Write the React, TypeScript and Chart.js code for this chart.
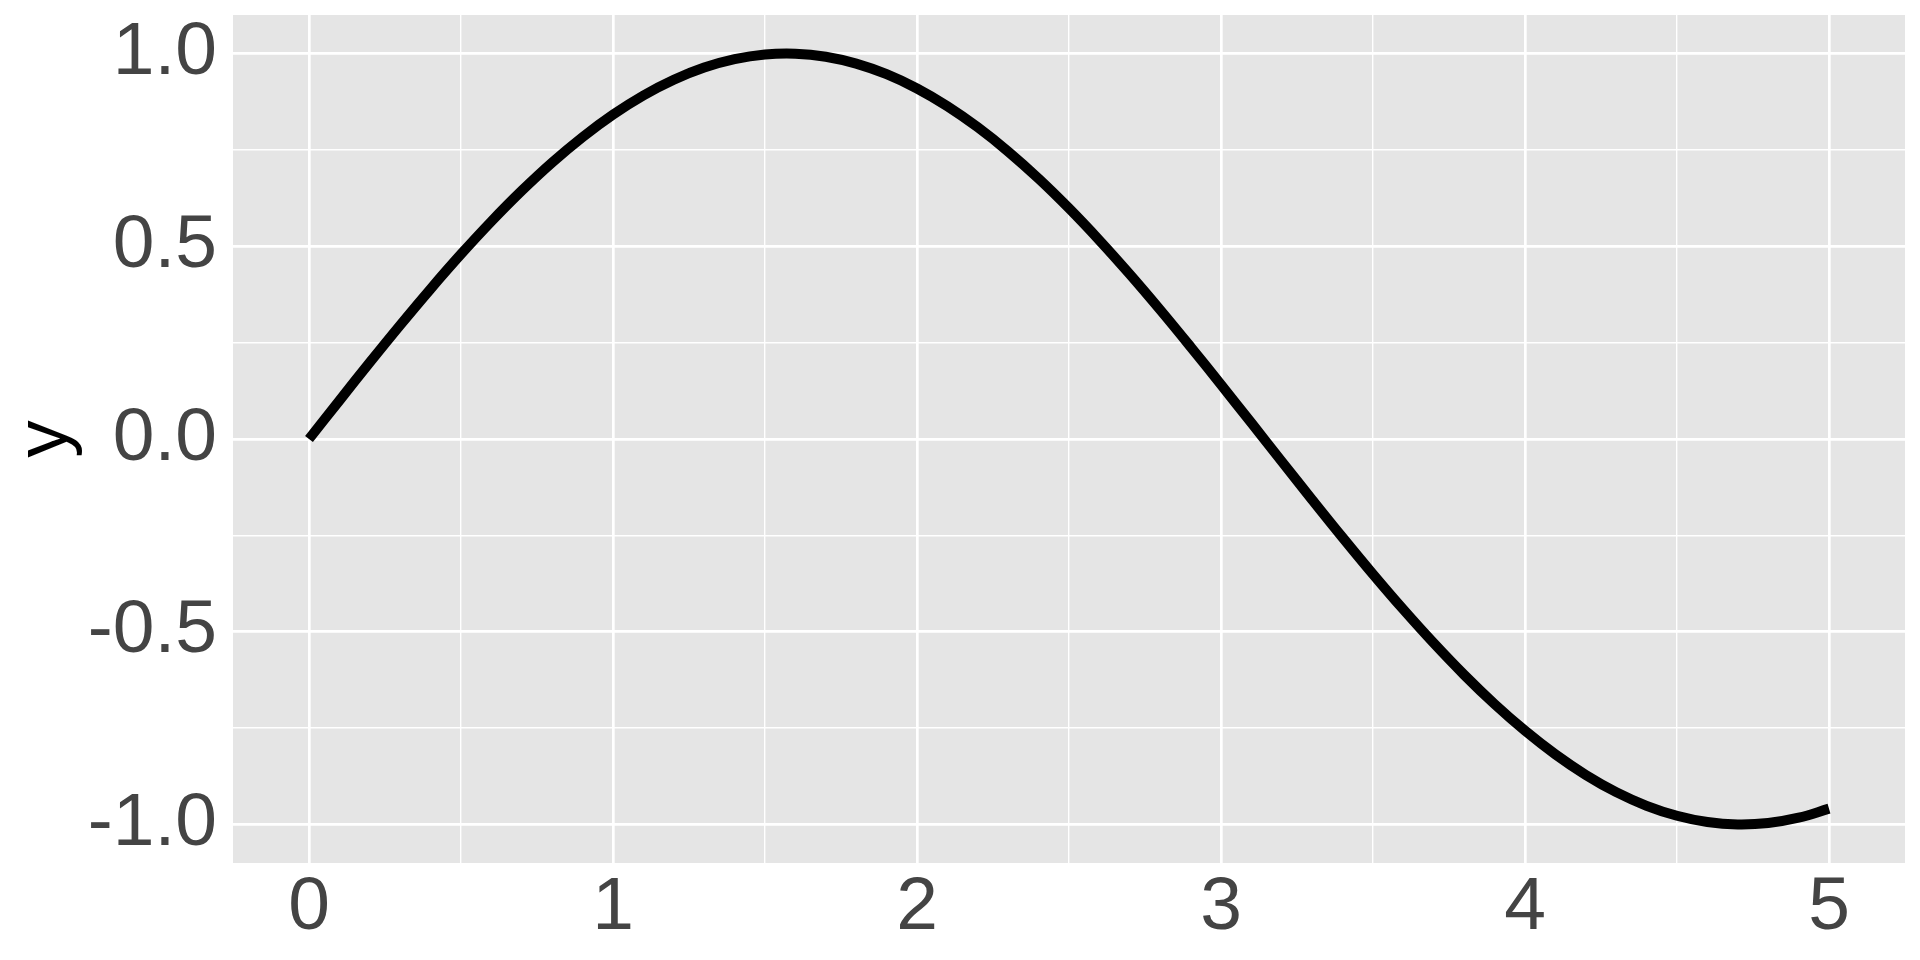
import React, { useEffect, useRef } from "react";
import { Chart, registerables } from "chart.js";

Chart.register(...registerables);

const xValues = [
  0, 0.1, 0.2, 0.3, 0.4, 0.5, 0.6, 0.7, 0.8, 0.9,
  1.0, 1.1, 1.2, 1.3, 1.4, 1.5, 1.6, 1.7, 1.8, 1.9,
  2.0, 2.1, 2.2, 2.3, 2.4, 2.5, 2.6, 2.7, 2.8, 2.9,
  3.0, 3.1, 3.2, 3.3, 3.4, 3.5, 3.6, 3.7, 3.8, 3.9,
  4.0, 4.1, 4.2, 4.3, 4.4, 4.5, 4.6, 4.7, 4.8, 4.9, 5.0,
];
const yValues = [
  0, 0.0998, 0.1987, 0.2955, 0.3894, 0.4794, 0.5646, 0.6442, 0.7174, 0.7833,
  0.8415, 0.8912, 0.932, 0.9636, 0.9854, 0.9975, 0.9996, 0.9917, 0.9738, 0.9463,
  0.9093, 0.8632, 0.8085, 0.7457, 0.6755, 0.5985, 0.5155, 0.4274, 0.335, 0.2392,
  0.1411, 0.0416, -0.0584, -0.1577, -0.2555, -0.3508, -0.4425, -0.5298, -0.6119, -0.6878,
  -0.7568, -0.8183, -0.8716, -0.9162, -0.9516, -0.9775, -0.9937, -0.9999, -0.9962, -0.9825, -0.9589,
];
const xTicks = [0, 0.5, 1, 1.5, 2, 2.5, 3, 3.5, 4, 4.5, 5];
const xMajor = [0, 1, 2, 3, 4, 5];
const xLabels = ["0", "1", "2", "3", "4", "5"];
const yTicks = [-1, -0.75, -0.5, -0.25, 0, 0.25, 0.5, 0.75, 1];
const yMajor = [-1, -0.5, 0, 0.5, 1];
const yLabels = ["-1.0", "-0.5", "0.0", "0.5", "1.0"];
const yTitle = "y";

const FONT = "'Liberation Sans', Arial, sans-serif";

const panelBg = {
  id: "panelBg",
  beforeDraw(chart: any) {
    const { ctx, chartArea } = chart;
    ctx.save();
    ctx.fillStyle = "#E5E5E5";
    ctx.fillRect(chartArea.left, chartArea.top, chartArea.right - chartArea.left, chartArea.bottom - chartArea.top);
    ctx.restore();
  },
};

const zeroPad = (scale: any) => {
  scale.paddingTop = 0;
  scale.paddingBottom = 0;
  scale.paddingLeft = 0;
  scale.paddingRight = 0;
};

export default function App() {
  const ref = useRef<HTMLCanvasElement>(null);
  useEffect(() => {
    document.body.style.margin = "0";
    const data = xValues.map((x, i) => ({ x, y: yValues[i] }));
    const chart = new Chart(ref.current!, {
      type: "line",
      data: {
        datasets: [
          {
            data,
            borderColor: "#000000",
            borderWidth: 10,
            pointRadius: 0,
            fill: false,
            tension: 0.4,
            borderCapStyle: "butt",
            borderJoinStyle: "round",
          },
        ],
      },
      plugins: [panelBg],
      options: {
        animation: false,
        responsive: false,
        maintainAspectRatio: false,
        layout: { padding: { top: 15, right: 15, left: 0, bottom: 0 } },
        plugins: { legend: { display: false }, tooltip: { enabled: false } },
        scales: {
          x: {
            type: "linear",
            min: -0.25,
            max: 5.25,
            afterBuildTicks: (scale: any) => {
              scale.ticks = xTicks.map((v) => ({ value: v }));
            },
            afterFit: (scale: any) => {
              scale.height = 97;
              zeroPad(scale);
            },
            ticks: {
              autoSkip: false,
              maxRotation: 0,
              padding: 0,
              color: "#444444",
              font: { family: FONT, size: 75 },
              callback: (v: any) => {
                const i = xMajor.indexOf(Number(v));
                return i >= 0 ? xLabels[i] : "";
              },
            },
            grid: {
              color: "#FFFFFF",
              drawTicks: false,
              lineWidth: (ctx: any) => (xMajor.includes(ctx.tick?.value) ? 2.7 : 1.4),
            },
            border: { display: false },
          },
          y: {
            type: "linear",
            min: -1.1,
            max: 1.1,
            afterBuildTicks: (scale: any) => {
              scale.ticks = yTicks.map((v) => ({ value: v }));
            },
            afterFit: (scale: any) => {
              scale.width = 233;
              zeroPad(scale);
            },
            ticks: {
              autoSkip: false,
              padding: 16,
              color: "#444444",
              font: { family: FONT, size: 75 },
              callback: (v: any) => {
                const i = yMajor.indexOf(Number(v));
                return i >= 0 ? yLabels[i] : "";
              },
            },
            grid: {
              color: "#FFFFFF",
              drawTicks: false,
              lineWidth: (ctx: any) => (yMajor.includes(ctx.tick?.value) ? 2.7 : 1.4),
            },
            border: { display: false },
            title: {
              display: true,
              text: yTitle,
              color: "#000000",
              font: { family: FONT, size: 75, lineHeight: 1 },
              padding: { top: 9, bottom: 0 },
            },
          },
        },
      } as any,
    });
    return () => chart.destroy();
  }, []);
  return (
    <div style={{ width: 1920, height: 960 }}>
      <canvas ref={ref} width={1920} height={960} style={{ display: "block" }} />
    </div>
  );
}
